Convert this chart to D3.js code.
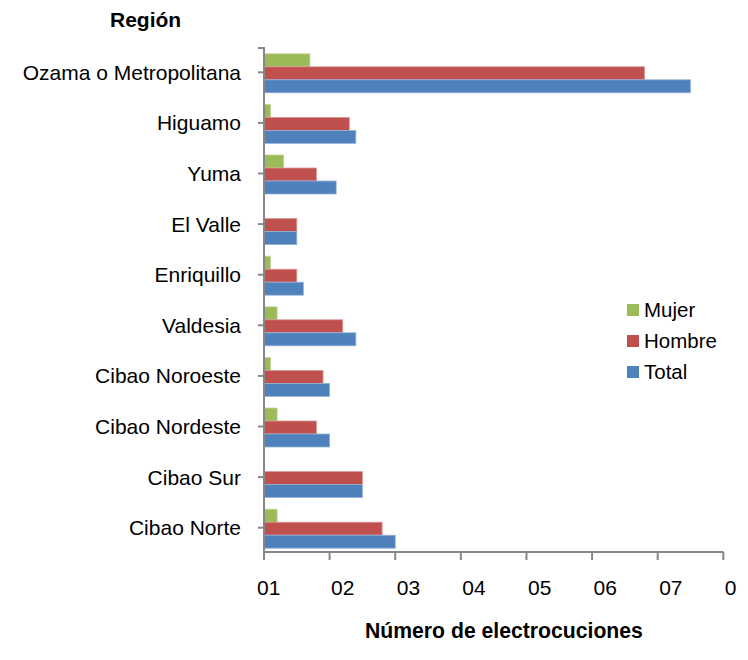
<!DOCTYPE html>
<html>
<head>
<meta charset="utf-8">
<script src="https://cdn.jsdelivr.net/npm/d3@7"></script>
<style>
  html, body { margin: 0; padding: 0; background: #fff; }
  svg { display: block; font-family: "Liberation Sans", Arial, sans-serif; }
</style>
</head>
<body>
<svg id="chart" width="748" height="660"></svg>
<script>
// Electrocutions by region, split by sex
const regions = ["Ozama o Metropolitana", "Higuamo", "Yuma", "El Valle", "Enriquillo",
                 "Valdesia", "Cibao Noroeste", "Cibao Nordeste", "Cibao Sur", "Cibao Norte"];
const mujer  = [7, 1, 3, 0, 1, 2, 1, 2, 0, 2];
const hombre = [58, 13, 8, 5, 5, 12, 9, 8, 15, 18];
const total  = [65, 14, 11, 5, 6, 14, 10, 10, 15, 20];
const seriesNames = ["Mujer", "Hombre", "Total"];
const tickValues = [0, 10, 20, 30, 40, 50, 60, 70];
const tickLabels = ["01", "02", "03", "04", "05", "06", "07", "0"];

const colors = { Mujer: "#9BBB59", Hombre: "#C0504D", Total: "#4F81BD" };
const edges  = { Mujer: "#C3D69B", Hombre: "#D99694", Total: "#95B3D7" };
const values = { Mujer: mujer, Hombre: hombre, Total: total };

const svg = d3.select("#chart");
const axisColor = "#868686";

const x = d3.scaleLinear().domain([0, 70]).range([264, 723.3]);
const y = d3.scaleBand().domain(regions).range([47, 553]);
const inner = d3.scaleBand().domain(seriesNames).range([0, 39]);

// bars
const groups = svg.append("g").selectAll("g")
  .data(regions)
  .join("g")
  .attr("transform", d => `translate(0,${y(d) + y.bandwidth() / 2 - 19.5 + 1})`);

groups.selectAll("rect")
  .data((d, i) => seriesNames.map(s => ({ s, v: values[s][i] })).filter(e => e.v > 0))
  .join("rect")
  .attr("x", x(0))
  .attr("y", d => inner(d.s))
  .attr("width", d => x(d.v) - x(0))
  .attr("height", inner.bandwidth())
  .attr("fill", d => colors[d.s])
  .attr("stroke", d => edges[d.s])
  .attr("stroke-width", 0.8);

// x axis
const xAxis = svg.append("g").attr("transform", "translate(0,552)");
xAxis.append("line")
  .attr("x1", x(0)).attr("x2", x(70))
  .attr("stroke", axisColor).attr("stroke-width", 2);
xAxis.selectAll("line.tick")
  .data(tickValues)
  .join("line")
  .attr("class", "tick")
  .attr("x1", d => x(d)).attr("x2", d => x(d))
  .attr("y1", 0).attr("y2", 8)
  .attr("stroke", axisColor).attr("stroke-width", 2);
xAxis.selectAll("text")
  .data(tickValues)
  .join("text")
  .attr("x", (d, i) => x(d) + (i === 0 ? -7 : 1.5))
  .attr("y", 43)
  .attr("font-size", 21)
  .attr("fill", "#000")
  .text((d, i) => tickLabels[i]);

// y axis
const yAxis = svg.append("g");
yAxis.append("line")
  .attr("x1", 264).attr("x2", 264)
  .attr("y1", 47).attr("y2", 553)
  .attr("stroke", axisColor).attr("stroke-width", 2);
yAxis.append("line")
  .attr("x1", 258).attr("x2", 264)
  .attr("y1", 48).attr("y2", 48)
  .attr("stroke", axisColor).attr("stroke-width", 2);
yAxis.selectAll("line.tick")
  .data(regions)
  .join("line")
  .attr("class", "tick")
  .attr("x1", 258).attr("x2", 264)
  .attr("y1", d => y(d) + y.bandwidth() / 2)
  .attr("y2", d => y(d) + y.bandwidth() / 2)
  .attr("stroke", axisColor).attr("stroke-width", 2);
yAxis.selectAll("text")
  .data(regions)
  .join("text")
  .attr("x", 241)
  .attr("y", d => y(d) + y.bandwidth() / 2)
  .attr("dy", "0.36em")
  .attr("text-anchor", "end")
  .attr("font-size", 21)
  .attr("fill", "#000")
  .text(d => d);

// legend
const legend = svg.append("g").attr("transform", "translate(627,304)");
const item = legend.selectAll("g")
  .data(seriesNames)
  .join("g")
  .attr("transform", (d, i) => `translate(0,${i * 31})`);
item.append("rect")
  .attr("width", 12).attr("height", 12)
  .attr("fill", d => colors[d]);
item.append("text")
  .attr("x", 17).attr("y", 12.5)
  .attr("font-size", 20.5)
  .attr("fill", "#000")
  .text(d => d);

// axis titles
svg.append("text")
  .attr("x", 110).attr("y", 27)
  .attr("font-size", 21).attr("font-weight", "bold")
  .text("Región");
svg.append("text")
  .attr("x", 365).attr("y", 638)
  .attr("font-size", 21.2).attr("font-weight", "bold")
  .text("Número de electrocuciones");
</script>
</body>
</html>
